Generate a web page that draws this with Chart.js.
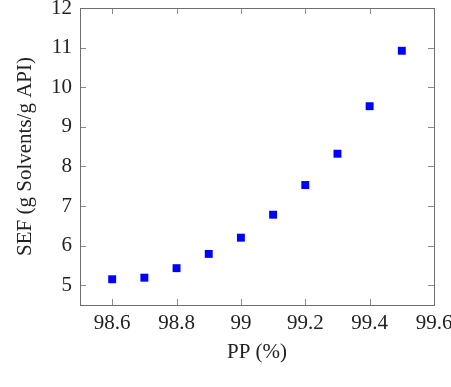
<!DOCTYPE html>
<html>
<head>
<meta charset="utf-8">
<script src="https://cdn.jsdelivr.net/npm/chart.js@4"></script>
<style>
  html, body { margin: 0; padding: 0; background: #fff; }
  #wrap { width: 451px; height: 387px; }
</style>
</head>
<body>
<div id="wrap"><canvas id="sef-chart" width="451" height="387"></canvas></div>
<script>
// valores
const ppValues = [98.6, 98.7, 98.8, 98.9, 99.0, 99.1, 99.2, 99.3, 99.4, 99.5];
const sefValues = [5.15, 5.19, 5.43, 5.79, 6.20, 6.78, 7.53, 8.32, 9.52, 10.92];
const xTicks = [98.6, 98.8, 99.0, 99.2, 99.4, 99.6];
const yTicks = [5, 6, 7, 8, 9, 10, 11, 12];

const serif = "'Liberation Serif', 'DejaVu Serif', serif";
const axisGray = '#8a8a8a';

// moldura e marcas de escala para dentro (estilo pgfplots)
const frameTicks = {
    id: 'frameTicks',
    afterDraw(chart) {
        const { ctx, chartArea: a, scales: { x, y } } = chart;
        ctx.save();
        ctx.strokeStyle = axisGray;
        ctx.lineWidth = 1;
        xTicks.forEach(v => {
            const px = Math.round(x.getPixelForValue(v)) + 0.5;
            ctx.beginPath();
            ctx.moveTo(px, a.bottom); ctx.lineTo(px, a.bottom - 6);
            ctx.moveTo(px, a.top); ctx.lineTo(px, a.top + 6);
            ctx.stroke();
        });
        yTicks.forEach(v => {
            const py = Math.round(y.getPixelForValue(v)) + 0.5;
            ctx.beginPath();
            ctx.moveTo(a.left, py); ctx.lineTo(a.left + 6, py);
            ctx.moveTo(a.right, py); ctx.lineTo(a.right - 6, py);
            ctx.stroke();
        });
        ctx.strokeStyle = '#6e6e6e';
        ctx.strokeRect(Math.round(a.left) + 0.5, Math.round(a.top) + 0.5,
            Math.round(a.right - a.left), Math.round(a.bottom - a.top));
        ctx.restore();
    }
};

const ctx = document.getElementById('sef-chart');
new Chart(ctx, {
    type: 'scatter',
    data: {
        datasets: [{
            label: 'SEF',
            data: ppValues.map((v, i) => ({ x: v, y: sefValues[i] })),
            backgroundColor: '#0000ff',
            pointStyle: 'rect',
            pointRadius: 5.6,
            pointHoverRadius: 5.6,
            pointBorderWidth: 0
        }]
    },
    options: {
        responsive: false,
        animation: false,
        layout: { padding: { left: 13, top: 8, right: 17, bottom: 22 } },
        plugins: { legend: { display: false }, tooltip: { enabled: false } },
        scales: {
            x: {
                type: 'linear',
                min: 98.5,
                max: 99.6,
                afterBuildTicks: s => { s.ticks = xTicks.map(v => ({ value: v })); },
                afterFit: s => { s.height = 60; s.paddingLeft = 0; s.paddingRight = 0; },
                grid: { display: false, drawTicks: false },
                border: { display: false },
                ticks: {
                    padding: 6,
                    color: '#222',
                    font: { family: serif, size: 21 },
                    maxRotation: 0,
                    callback: v => String(+Number(v).toFixed(1))
                },
                title: {
                    display: true,
                    text: 'PP (%)',
                    color: '#222',
                    font: { family: serif, size: 21 },
                    padding: { top: 0, bottom: 0 }
                }
            },
            y: {
                min: 4.5,
                max: 12,
                afterBuildTicks: s => { s.ticks = yTicks.map(v => ({ value: v })); },
                afterFit: s => { s.width = 67; s.paddingTop = 0; s.paddingBottom = 0; },
                grid: { display: false, drawTicks: false },
                border: { display: false },
                ticks: {
                    padding: 8,
                    color: '#222',
                    font: { family: serif, size: 21 }
                },
                title: {
                    display: true,
                    text: 'SEF (g Solvents/g API)',
                    color: '#222',
                    font: { family: serif, size: 21 },
                    padding: { top: 0, bottom: 0 }
                }
            }
        }
    },
    plugins: [frameTicks]
});
</script>
</body>
</html>
